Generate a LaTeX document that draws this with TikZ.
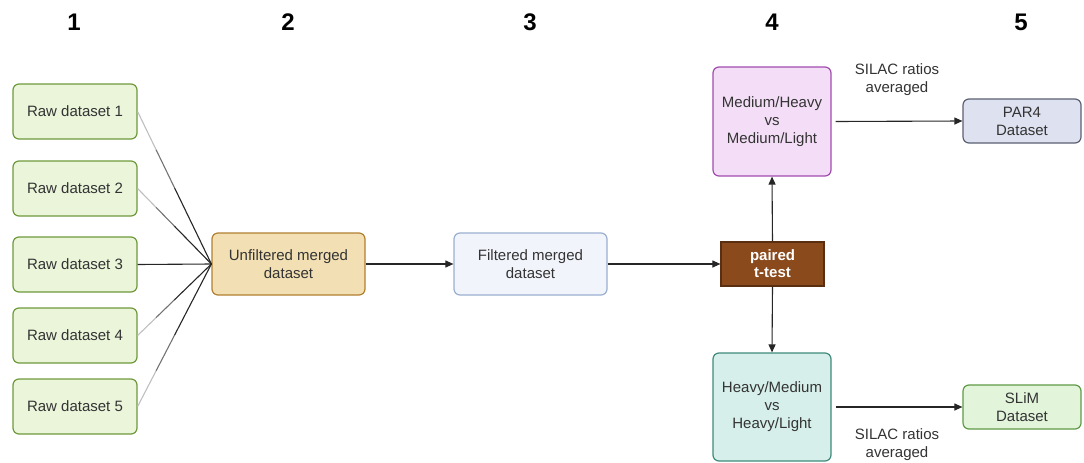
\documentclass[tikz,border=0pt]{standalone}
\usepackage{fontspec}
\setmainfont{Liberation Sans}
\usetikzlibrary{arrows.meta,calc}
\definecolor{txt}{HTML}{333333}
\definecolor{rawfill}{HTML}{EAF5DA}
\definecolor{rawdraw}{HTML}{6E9A3C}
\definecolor{unffill}{HTML}{F2E0B4}
\definecolor{unfdraw}{HTML}{B07F30}
\definecolor{filfill}{HTML}{F1F5FB}
\definecolor{fildraw}{HTML}{9AAED0}
\definecolor{ttfill}{HTML}{8B4A1C}
\definecolor{ttdraw}{HTML}{5A2E10}
\definecolor{mhfill}{HTML}{F4DEF7}
\definecolor{mhdraw}{HTML}{A04CAE}
\definecolor{hmfill}{HTML}{D6EFEA}
\definecolor{hmdraw}{HTML}{3F8A7A}
\definecolor{parfill}{HTML}{DEE1EF}
\definecolor{pardraw}{HTML}{5A6072}
\definecolor{slimfill}{HTML}{E2F4DA}
\definecolor{slimdraw}{HTML}{5E9A45}
\tikzset{
  box/.style={rounded corners=6pt, line width=1.2pt, align=center, text=txt,
    font=\fontsize{15}{18}\selectfont, inner sep=0pt},
  rawbox/.style={box, fill=rawfill, draw=rawdraw, minimum width=124pt, minimum height=55pt},
  arr/.style={-{Triangle[length=8pt,width=7pt]}, line width=1.1pt, draw=black!85},
  fan/.style={line width=1.1pt},
  head/.style={font=\fontsize{24}{27}\selectfont\bfseries},
  lbl/.style={font=\fontsize{15}{18}\selectfont, text=txt, align=center}
}
\begin{document}
\begin{tikzpicture}[x=1pt,y=-1pt]
\useasboundingbox (0,0) rectangle (1084,463);
% headers
\node[head] (h1) at (74,22) {1};
\node[head] (h2) at (288,22) {2};
\node[head] (h3) at (530,22) {3};
\node[head] (h4) at (772,22) {4};
\node[head] (h5) at (1021,22) {5};
% raw datasets
\node[rawbox] (r1) at (75,111.5) {Raw dataset 1};
\node[rawbox] (r2) at (75,188.5) {Raw dataset 2};
\node[rawbox] (r3) at (75,264.5) {Raw dataset 3};
\node[rawbox] (r4) at (75,335.5) {Raw dataset 4};
\node[rawbox] (r5) at (75,406.5) {Raw dataset 5};
% merged
\node[box, fill=unffill, draw=unfdraw, minimum width=153pt, minimum height=62pt] (unf) at (288.5,264) {Unfiltered merged\\dataset};
\node[box, fill=filfill, draw=fildraw, minimum width=153pt, minimum height=62pt] (fil) at (530.5,264) {Filtered merged\\dataset};
% t-test
\node[box, rounded corners=0pt, fill=ttfill, draw=ttdraw, text=white, minimum width=103pt, minimum height=44pt,
  font=\fontsize{15}{17}\selectfont\bfseries] (tt) at (772.5,264) {paired\\t-test};
% comparisons
\node[box, fill=mhfill, draw=mhdraw, minimum width=118pt, minimum height=109pt] (mh) at (772,121.5) {Medium/Heavy\\vs\\Medium/Light};
\node[box, fill=hmfill, draw=hmdraw, minimum width=118pt, minimum height=108pt] (hm) at (772,407) {Heavy/Medium\\vs\\Heavy/Light};
% outputs
\node[box, fill=parfill, draw=pardraw, minimum width=118pt, minimum height=44pt] (par) at (1022,121) {PAR4\\Dataset};
\node[box, fill=slimfill, draw=slimdraw, minimum width=118pt, minimum height=44pt] (slim) at (1022,407) {SLiM\\Dataset};
% labels
\node[lbl] (l1) at (897,80) {SILAC ratios\\averaged};
\node[lbl] (l2) at (897,445) {SILAC ratios\\averaged};
% connectors (fading toward the raw boxes)
\foreach \r in {r1,r2,r4,r5} {
  \draw[fan, black!25] (\r.east) -- ($(\r.east)!0.25!(unf.west)$);
  \draw[fan, black!55] ($(\r.east)!0.25!(unf.west)$) -- ($(\r.east)!0.5!(unf.west)$);
  \draw[fan, black!85] ($(\r.east)!0.5!(unf.west)$) -- (unf.west);
}
\draw[fan, black!85] (r3.east) -- (unf.west);
\draw[arr] (unf.east) -- (fil.west);
\draw[arr] (fil.east) -- (tt.west);
\draw[arr] (tt.north) -- (mh.south);
\draw[arr] (tt.south) -- (hm.north);
\draw[arr] ([xshift=4pt]mh.east) -- (par.west);
\draw[arr] ([xshift=4pt]hm.east) -- (slim.west);
\end{tikzpicture}
\end{document}
